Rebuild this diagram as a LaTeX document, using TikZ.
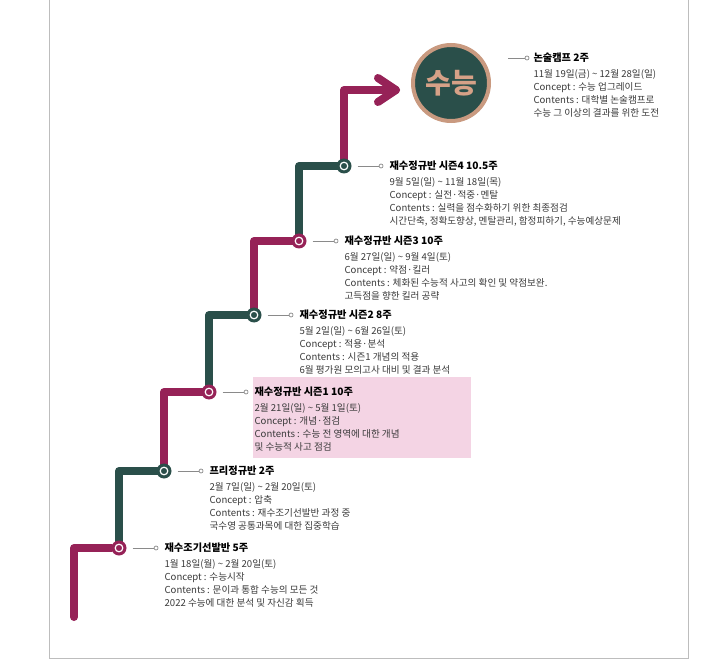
\documentclass[tikz,border=0pt]{standalone}
\usepackage{fontspec}
\setmainfont{Noto Sans CJK KR}
\usetikzlibrary{positioning,calc,backgrounds}
\definecolor{stepred}{HTML}{962257}
\definecolor{stepgreen}{HTML}{2A4F4A}
\definecolor{goalring}{HTML}{C99A80}
\definecolor{goaltext}{HTML}{D6A187}
\definecolor{notepink}{HTML}{F4D4E4}
\definecolor{leadgray}{HTML}{8A8A8A}
\definecolor{framegray}{HTML}{BDBDBD}
\definecolor{infogray}{HTML}{3A3A3A}
\tikzset{
	road/.style={line width=8pt,line cap=round,line join=round},
	station/.style={circle,minimum size=15pt,inner sep=0pt,
		path picture={\draw[white,line width=1.2pt] (path picture bounding box.center) circle (3.8pt);}},
	tack/.style={circle,draw=leadgray,fill=white,line width=0.7pt,inner sep=0pt,minimum size=4pt},
	lead/.style={draw=leadgray,line width=0.8pt},
	headline/.style={anchor=west,inner sep=0pt,text=black,font=\bfseries\fontsize{10.2}{12}\selectfont},
	info/.style={align=left,inner sep=0pt,text=infogray,font=\fontsize{9.6}{12.8}\selectfont},
	goal/.style={circle,minimum size=76pt,fill=stepgreen,draw=goalring,line width=4pt,
		text=goaltext,font=\bfseries\fontsize{28}{30}\selectfont}
}

\begin{document}
\begin{tikzpicture}[x=1pt,y=-1pt]
	\useasboundingbox (0,0) rectangle (720,660);
	\draw[framegray,line width=1pt] (49,0) -- (49,658) -- (688,658) -- (688,0);
	\fill[notepink] (253,377) rectangle (471,458);
	
	% steps
	\coordinate (start) at (74,617);
	\node[station,fill=stepred] (n1) at (119,548) {};
	\node[station,fill=stepgreen] (n2) at (164,471) {};
	\node[station,fill=stepred] (n3) at (209,392) {};
	\node[station,fill=stepgreen] (n4) at (254,315) {};
	\node[station,fill=stepred] (n5) at (299,241) {};
	\node[station,fill=stepgreen] (n6) at (344,166) {};
	\coordinate (tip) at (396,90);
	\node[goal] (goal) at (451,83) {수능};
	
	\begin{scope}[on background layer]
		\draw[road,stepred] (start) |- (n1);
		\draw[road,stepgreen] (n1.center) |- (n2.center);
		\draw[road,stepred] (n2.center) |- (n3.center);
		\draw[road,stepgreen] (n3.center) |- (n4.center);
		\draw[road,stepred] (n4.center) |- (n5.center);
		\draw[road,stepgreen] (n5.center) |- (n6.center);
		\draw[road,stepred] (n6.center) |- (tip);
		\draw[road,stepred] ($(tip)+(-18,-12)$) -- (tip) -- ($(tip)+(-18,12)$);
	\end{scope}
	
	% labels
	\node[tack] (d1) [right=27pt of n1] {};
	\draw[lead,shorten <=6pt] (n1) -- (d1);
	\node[headline,right=6pt of d1] (h1) {재수조기선발반 5주};
	\node[info,below right=6.5pt and 0pt of h1.south west] (c1) {1월 18일(월) \textasciitilde{} 2월 20일(토)\\Concept : 수능시작\\Contents : 문이과 통합 수능의 모든 것\\2022 수능에 대한 분석 및 자신감 획득};
	
	\node[tack] (d2) [right=27pt of n2] {};
	\draw[lead,shorten <=6pt] (n2) -- (d2);
	\node[headline,right=6pt of d2] (h2) {프리정규반 2주};
	\node[info,below right=6.5pt and 0pt of h2.south west] (c2) {2월 7일(일) \textasciitilde{} 2월 20일(토)\\Concept : 압축\\Contents : 재수조기선발반 과정 중\\국수영 공통과목에 대한 집중학습};
	
	\node[tack] (d3) [right=27pt of n3] {};
	\draw[lead,shorten <=6pt] (n3) -- (d3);
	\node[headline,right=6pt of d3] (h3) {재수정규반 시즌1 10주};
	\node[info,below right=6.5pt and 0pt of h3.south west] (c3) {2월 21일(일) \textasciitilde{} 5월 1일(토)\\Concept : 개념·점검\\Contents : 수능 전 영역에 대한 개념\\및 수능적 사고 점검};
	
	\node[tack] (d4) [right=27pt of n4] {};
	\draw[lead,shorten <=6pt] (n4) -- (d4);
	\node[headline,right=6pt of d4] (h4) {재수정규반 시즌2 8주};
	\node[info,below right=6.5pt and 0pt of h4.south west] (c4) {5월 2일(일) \textasciitilde{} 6월 26일(토)\\Concept : 적용·분석\\Contents : 시즌1 개념의 적용\\6월 평가원 모의고사 대비 및 결과 분석};
	
	\node[tack] (d5) [right=27pt of n5] {};
	\draw[lead,shorten <=6pt] (n5) -- (d5);
	\node[headline,right=6pt of d5] (h5) {재수정규반 시즌3 10주};
	\node[info,below right=6.5pt and 0pt of h5.south west] (c5) {6월 27일(일) \textasciitilde{} 9월 4일(토)\\Concept : 약점·킬러\\Contents : 체화된 수능적 사고의 확인 및 약점보완.\\고득점을 향한 킬러 공략};
	
	\node[tack] (d6) [right=27pt of n6] {};
	\draw[lead,shorten <=6pt] (n6) -- (d6);
	\node[headline,right=6pt of d6] (h6) {재수정규반 시즌4 10.5주};
	\node[info,below right=6.5pt and 0pt of h6.south west] (c6) {9월 5일(일) \textasciitilde{} 11월 18일(목)\\Concept : 실전·적중·멘탈\\Contents : 실력을 점수화하기 위한 최종점검\\시간단축, 정확도향상, 멘탈관리, 함정피하기, 수능예상문제};
	
	\coordinate (g0) at (508,58);
	\node[tack] (d7) at (527,58) {};
	\draw[lead] (g0) -- (d7);
	\node[headline,right=4pt of d7] (h7) {논술캠프 2주};
	\node[info,below right=6.5pt and 0pt of h7.south west] (c7) {11월 19일(금) \textasciitilde{} 12월 28일(일)\\Concept : 수능 업그레이드\\Contents : 대학별 논술캠프로\\수능 그 이상의 결과를 위한 도전};
\end{tikzpicture}
\end{document}
